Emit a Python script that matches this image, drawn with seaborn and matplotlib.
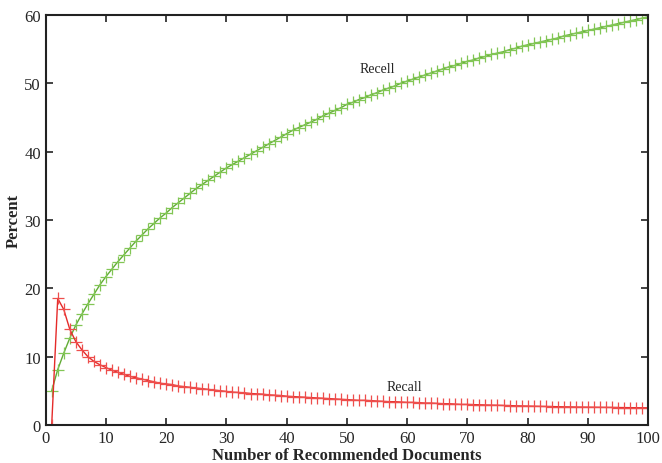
import matplotlib
matplotlib.use("Agg")
import matplotlib.pyplot as plt
import seaborn as sns
import pandas as pd

docs = list(range(1, 101))

recell = [5.0, 8.1, 10.5, 12.7, 14.6, 16.2, 17.7, 19.1, 20.5, 21.7,
          22.8, 23.9, 24.9, 25.9, 26.9, 27.8, 28.7, 29.5, 30.3, 31.0,
          31.8, 32.5, 33.2, 33.9, 34.6, 35.2, 35.8, 36.4, 37.0, 37.6,
          38.1, 38.6, 39.1, 39.6, 40.1, 40.6, 41.1, 41.6, 42.1, 42.6,
          43.1, 43.5, 43.9, 44.3, 44.7, 45.2, 45.6, 46.0, 46.4, 46.9,
          47.2, 47.6, 47.9, 48.3, 48.6, 49.0, 49.3, 49.6, 50.0, 50.3,
          50.6, 50.9, 51.2, 51.5, 51.8, 52.1, 52.4, 52.6, 52.9, 53.2,
          53.4, 53.7, 53.9, 54.2, 54.4, 54.6, 54.9, 55.1, 55.4, 55.6,
          55.8, 56.0, 56.2, 56.4, 56.6, 56.9, 57.1, 57.3, 57.5, 57.7,
          57.9, 58.1, 58.3, 58.5, 58.7, 58.9, 59.1, 59.3, 59.5, 59.7]

recall = [0.0, 18.5, 16.9, 14.0, 12.2, 11.0, 10.0, 9.3, 8.8, 8.4,
          8.0, 7.7, 7.4, 7.1, 6.9, 6.7, 6.5, 6.3, 6.1, 6.0,
          5.9, 5.7, 5.6, 5.5, 5.4, 5.3, 5.2, 5.1, 5.0, 4.9,
          4.8, 4.75, 4.7, 4.6, 4.55, 4.5, 4.4, 4.35, 4.3, 4.2,
          4.15, 4.1, 4.05, 4.0, 3.95, 3.9, 3.85, 3.8, 3.75, 3.7,
          3.65, 3.6, 3.6, 3.55, 3.5, 3.45, 3.4, 3.4, 3.35, 3.3,
          3.3, 3.25, 3.2, 3.2, 3.15, 3.1, 3.1, 3.05, 3.0, 3.0,
          2.97, 2.95, 2.92, 2.9, 2.88, 2.85, 2.83, 2.8, 2.78, 2.76,
          2.74, 2.72, 2.7, 2.69, 2.67, 2.65, 2.64, 2.62, 2.61, 2.6,
          2.59, 2.58, 2.57, 2.56, 2.55, 2.54, 2.53, 2.52, 2.51, 2.5]

df = pd.DataFrame({"docs": docs, "recell": recell, "recall": recall})

sns.set_style("ticks")
plt.rcParams["font.family"] = ["Liberation Serif", "DejaVu Serif"]

fig = plt.figure(figsize=(6.62, 4.64), dpi=100)
ax = fig.add_axes([0.069, 0.082, 0.91, 0.884])

# green curve
sns.lineplot(data=df, x="docs", y="recell", ax=ax, color="#62ac36", lw=1.0,
             marker="+", markersize=9, markeredgewidth=0.9,
             markeredgecolor="#82c655")
# red curve
sns.lineplot(data=df, x="docs", y="recall", ax=ax, color="#e52b2a", lw=1.0,
             marker="+", markersize=9, markeredgewidth=0.9,
             markeredgecolor="#ee4e4c")

ax.text(55.0, 52.1, "Recell", fontsize=10, ha="center", va="center")
ax.text(59.6, 5.6, "Recall", fontsize=10, ha="center", va="center")

ax.set_xlim(0, 100)
ax.set_ylim(0, 60)
ax.set_xticks(range(0, 101, 10))
ax.set_yticks(range(0, 61, 10))
ax.tick_params(direction="in", top=True, right=True, labelsize=12,
               length=5, width=1.2, color="#222222")
for s in ax.spines.values():
    s.set_linewidth(1.5)
    s.set_color("#222222")

ax.set_xlabel("Number of Recommended Documents", fontsize=12,
              fontweight="bold", labelpad=1)
ax.set_ylabel("Percent", fontsize=12, fontweight="bold", labelpad=2)

fig.savefig("out.png", dpi=100)
